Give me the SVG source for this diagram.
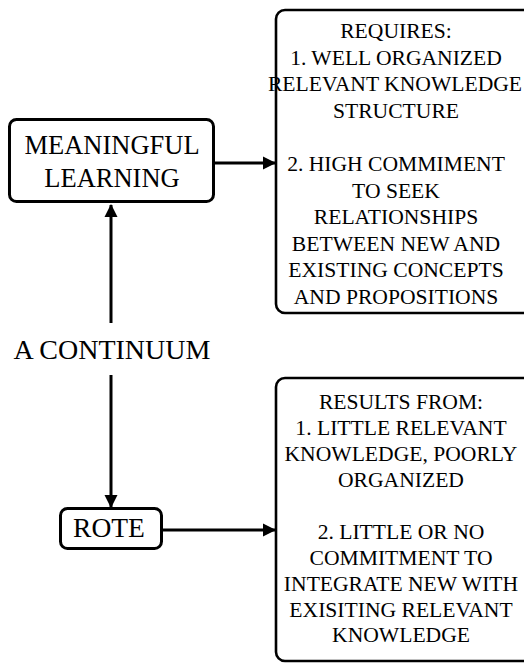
<svg xmlns="http://www.w3.org/2000/svg" width="524" height="664" viewBox="0 0 524 664">
<style>
.box{fill:#fff;stroke:#000;stroke-width:3}
.big{fill:#fff;stroke:#000;stroke-width:2.6}
.lbl{fill:#000;text-anchor:middle}
.l1{font-size:26.5px}
.l2{font-size:21.6px}
.con{stroke:#000;stroke-width:3;fill:none}
</style>
<defs>
<marker id="ah" markerWidth="14" markerHeight="14" refX="12" refY="7" orient="auto" markerUnits="userSpaceOnUse">
<path d="M0,0.5 L13,7 L0,13.5 Z" fill="#000"/>
</marker>
</defs>
<rect width="524" height="664" fill="#fff"/>
<g id="connectors">
<line class="con" x1="111" y1="323" x2="111" y2="205" marker-end="url(#ah)"/>
<line class="con" x1="111" y1="375" x2="111" y2="507" marker-end="url(#ah)"/>
<line class="con" x1="215" y1="163" x2="275" y2="163" marker-end="url(#ah)"/>
<line class="con" x1="162" y1="530" x2="275" y2="530" marker-end="url(#ah)"/>
</g>
<g font-family="Liberation Serif, Times New Roman, DejaVu Serif, serif">
<g id="meaningful">
<rect class="box" x="9.5" y="119.5" width="204" height="82" rx="7"/>
<text class="lbl l1" x="112" y="154">MEANINGFUL</text>
<text class="lbl l1" x="112" y="187">LEARNING</text>
</g>
<g id="continuum">
<text class="lbl" font-size="28" x="112" y="359">A CONTINUUM</text>
</g>
<g id="rote">
<rect class="box" x="60.5" y="508.5" width="101" height="40" rx="7"/>
<text class="lbl" font-size="27.5" x="109" y="537">ROTE</text>
</g>
<g id="requires">
<rect class="big" x="276" y="10" width="256" height="303" rx="9"/>
<text class="lbl l2" x="396" y="38">REQUIRES:</text>
<text class="lbl l2" x="396" y="64.6">1. WELL ORGANIZED</text>
<text class="lbl l2" x="395" y="91.2">RELEVANT KNOWLEDGE</text>
<text class="lbl l2" x="396" y="117.8">STRUCTURE</text>
<text class="lbl l2" x="396" y="171">2. HIGH COMMIMENT</text>
<text class="lbl l2" x="396" y="197.6">TO SEEK</text>
<text class="lbl l2" x="396" y="224.2">RELATIONSHIPS</text>
<text class="lbl l2" x="396" y="250.8">BETWEEN NEW AND</text>
<text class="lbl l2" x="396" y="277.4">EXISTING CONCEPTS</text>
<text class="lbl l2" x="396" y="304">AND PROPOSITIONS</text>
</g>
<g id="results">
<rect class="big" x="276" y="378" width="256" height="283" rx="9"/>
<text class="lbl l2" x="401" y="409">RESULTS FROM:</text>
<text class="lbl l2" x="401" y="435">1. LITTLE RELEVANT</text>
<text class="lbl l2" x="401" y="461">KNOWLEDGE, POORLY</text>
<text class="lbl l2" x="401" y="487">ORGANIZED</text>
<text class="lbl l2" x="401" y="539">2. LITTLE OR NO</text>
<text class="lbl l2" x="401" y="565">COMMITMENT TO</text>
<text class="lbl l2" x="401" y="591">INTEGRATE NEW WITH</text>
<text class="lbl l2" x="401" y="617">EXISITING RELEVANT</text>
<text class="lbl l2" x="401" y="642">KNOWLEDGE</text>
</g>
</g>
</svg>
